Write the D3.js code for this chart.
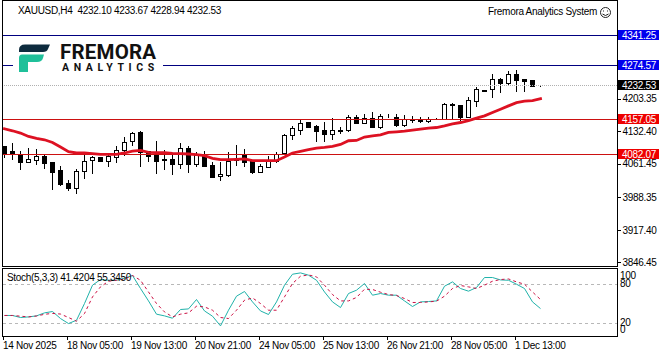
<!DOCTYPE html>
<html>
<head>
<meta charset="utf-8">
<script src="https://cdn.jsdelivr.net/npm/d3@7"></script>
<style>
html, body { margin: 0; padding: 0; background: #fff; }
text { font-family: "Liberation Sans", sans-serif; font-size: 10px; letter-spacing: -0.3px; fill: #000; }
</style>
</head>
<body>
<div id="chart"></div>
<script>
var opens = [4099.0,4086.9,4081.0,4064.3,4068.6,4077.3,4063.7,4046.3,4018.1,4007.9,4043.5,4067.3,4074.5,4066.5,4075.2,4090.3,4109.9,4128.7,4086.9,4078.8,4070.2,4070.2,4060.0,4094.0,4059.3,4077.3,4057.1,4032.6,4036.1,4068.0,4081.0,4066.5,4042.6,4053.5,4066.5,4083.2,4122.2,4133.7,4151.9,4141.7,4133.1,4125.0,4134.6,4133.1,4162.8,4149.8,4160.6,4139.6,4167.1,4162.8,4145.4,4158.4,4157.6,4153.2,4159.1,4158.4,4189.5,4187.3,4162.8,4197.5,4221.3,4223.5,4243.7,4236.5,4256.7,4243.7,4241.5,4232.10]
var highs = [4099.0,4107.0,4089.7,4096.2,4094.0,4081.0,4065.8,4057.1,4026.8,4050.6,4083.2,4077.3,4076.0,4083.2,4099.0,4120.0,4131.5,4133.1,4088.2,4111.4,4091.8,4079.5,4106.4,4099.9,4086.9,4088.2,4065.2,4064.3,4086.9,4102.7,4094.0,4068.0,4060.8,4077.3,4086.9,4126.6,4143.9,4156.9,4151.9,4146.1,4151.9,4160.6,4141.1,4167.8,4168.4,4169.9,4173.6,4170.6,4170.6,4169.3,4168.4,4166.2,4162.8,4164.1,4161.3,4194.4,4193.1,4189.5,4206.2,4227.8,4221.3,4256.7,4247.4,4263.2,4265.4,4245.2,4242.6,4233.67]
var lows = [4074.5,4070.2,4048.5,4063.7,4059.3,4050.6,4005.1,4013.8,4002.9,3996.4,4028.9,4039.8,4065.8,4055.0,4063.7,4078.8,4099.0,4055.0,4064.3,4039.8,4048.5,4037.6,4050.6,4042.0,4055.0,4055.0,4030.5,4023.1,4031.8,4055.6,4053.5,4039.8,4041.3,4052.8,4063.0,4081.0,4113.5,4122.9,4138.1,4109.2,4109.2,4113.5,4126.6,4130.2,4147.6,4148.2,4139.6,4136.7,4161.9,4142.4,4142.4,4149.8,4149.8,4151.1,4156.9,4156.9,4158.4,4155.4,4160.6,4185.8,4217.7,4205.3,4214.8,4232.2,4218.3,4218.3,4228.5,4228.94]
var closes = [4083.2,4082.5,4063.7,4070.2,4076.0,4062.1,4042.6,4015.9,4007.3,4043.5,4065.2,4074.5,4066.5,4076.0,4090.3,4108.6,4128.1,4085.3,4077.3,4066.5,4067.3,4060.0,4093.4,4059.3,4078.2,4055.6,4031.1,4037.0,4066.5,4070.2,4064.3,4041.3,4054.3,4065.2,4081.0,4122.2,4138.9,4149.8,4139.6,4131.5,4125.0,4134.6,4131.5,4162.8,4149.8,4160.6,4141.1,4164.9,4165.6,4144.6,4156.9,4156.3,4153.2,4158.4,4160.2,4189.5,4187.3,4162.8,4198.1,4222.0,4218.3,4243.7,4235.0,4256.7,4242.2,4240.0,4229.1,4232.53]
var maValues = [4137.4,4133.1,4128.1,4120.7,4116.4,4113.5,4107.7,4097.7,4087.5,4084.7,4084.7,4083.2,4081.7,4081.7,4081.7,4084.7,4089.0,4090.3,4086.0,4085.3,4085.3,4083.8,4083.2,4082.5,4081.0,4078.8,4073.0,4070.2,4070.2,4070.8,4071.7,4068.0,4068.0,4068.0,4068.0,4076.0,4084.7,4088.2,4091.8,4095.5,4096.8,4099.0,4103.3,4111.4,4112.0,4119.4,4122.2,4124.4,4129.4,4130.9,4132.4,4134.6,4136.7,4138.9,4140.2,4143.9,4148.2,4151.1,4155.4,4160.6,4165.6,4172.8,4180.1,4187.3,4194.4,4197.5,4198.8,4203.1]
var stochMain = [30.8,30.8,27.7,28.6,30.2,34.8,36.9,26.1,18.4,23.5,49.2,77.4,86.1,85,85,88.2,92.3,72.3,53.2,32.8,30.2,26.6,40,40.9,55.4,37.8,29.7,14.8,38.9,60.5,67.7,51.7,37.8,32.3,51.7,77.4,94.3,96.3,92.8,85,67,51.7,43,64.6,69.7,80,62,64.6,62,62,53.2,44.6,51.7,52.3,53.2,75.8,82.5,72.3,68.2,73.8,89.2,89.2,85.5,85,78.9,72.3,51.7,41.42]
var stochSignal = [30.8,30.8,29.7,28.6,30,32.6,34,33,27.7,22,33.8,59.4,74.8,83.5,85,87,92.3,85,67,49.2,36.3,28.6,32.8,34.8,45,44,38.9,27.7,26.1,38.9,54.3,57.8,49.2,38.9,38.9,59.4,80,91.2,93.2,90.2,77.4,63,53.2,53.2,58.5,71.2,70.8,66.6,63,61.5,56.9,50.8,50.8,51.7,52.8,60.5,72.3,76.9,74.8,72.3,77.4,83.5,86.1,87,82.5,78.9,67,55.35]

var priceTicks = [4203.35,4132.40,4061.45,3988.35,3917.40,3846.45]
var dateLabels = ["14 Nov 2025","18 Nov 05:00","19 Nov 13:00","20 Nov 21:00","24 Nov 05:00","25 Nov 13:00","26 Nov 21:00","28 Nov 05:00","1 Dec 13:00"]
var stochLevels = [80,20]
var stochTicks = [100,80,20,0]
var blueLevels = [4341.25,4274.57]
var redLevels = [4157.05,4082.07]
var bidPrice = 4232.53
var headerText = "XAUUSD,H4  4232.10 4233.67 4228.94 4232.53"
var stochText = "Stoch(5,3,3) 41.4204 55.3450"

var config = {
    width: 662, height: 357,
    left: 2, right: 617,
    mainTop: 0, mainBottom: 266,
    subTop: 268, subBottom: 336
}

var svg = d3.select("#chart").append("svg")
    .attr("width", config.width)
    .attr("height", config.height)
    .style("display", "block")

var x = d3.scaleLinear().domain([0, 67]).range([4.5, 540.5])
var y = d3.scaleLinear().domain([4341.25, 4082.07]).range([35.2, 154.2])
var yStoch = d3.scaleLinear().domain([100, 0]).range([270.5, 335.5])

var fmt = d3.format(".2f")

function row(v){ return Math.floor(y(v)) + 0.5 }

// candles
var candles = svg.append("g").attr("shape-rendering", "crispEdges")
opens.forEach(function(o, i){
    var c = closes[i]
    var cx = x(i)
    candles.append("line")
        .attr("x1", cx).attr("x2", cx)
        .attr("y1", y(highs[i])).attr("y2", y(lows[i]))
        .attr("stroke", "#000")
    var top = row(Math.max(o, c))
    var bottom = row(Math.min(o, c))
    candles.append("rect")
        .attr("x", cx - 2).attr("y", top)
        .attr("width", 4).attr("height", bottom - top)
        .attr("fill", c >= o ? "#fff" : "#000")
        .attr("stroke", "#000")
})

// horizontal levels
var levels = svg.append("g").attr("shape-rendering", "crispEdges")
levels.append("line")
    .attr("x1", config.left).attr("x2", config.right)
    .attr("y1", row(bidPrice)).attr("y2", row(bidPrice))
    .attr("stroke", "#b0b0b0").attr("stroke-dasharray", "1,1")
blueLevels.forEach(function(v){
    levels.append("line")
        .attr("x1", config.left).attr("x2", config.right)
        .attr("y1", row(v)).attr("y2", row(v))
        .attr("stroke", "#000080")
})
redLevels.forEach(function(v){
    levels.append("line")
        .attr("x1", config.left).attr("x2", config.right)
        .attr("y1", row(v)).attr("y2", row(v))
        .attr("stroke", "#cc1111")
})

// moving average
svg.append("path")
    .attr("fill", "none")
    .attr("stroke", "#dd1122")
    .attr("stroke-width", 2.8)
    .attr("stroke-linecap", "square")
    .attr("d", d3.line().x(function(d, i){ return x(i) }).y(function(d){ return y(d) })(maValues))

// logo sits on a white patch over the lines
var logo = svg.append("g")
logo.append("rect").attr("x", 13).attr("y", 38).attr("width", 150).attr("height", 37).attr("fill", "#fff")
logo.append("path").attr("fill", "#0d2b3e")
    .attr("d", "M25,44.5 L50,44.5 L48,49 Q47,52 43,52 L19,52 L19,50 Q19,44.5 25,44.5 Z")
logo.append("path").attr("fill", "#1fc09a")
    .attr("d", "M22,54.5 L44,54.5 L43,58 Q42,62 37,62 L28,62 L28,72 L19,72 L19,58 Q19,54.5 22,54.5 Z")
logo.append("text").attr("x", 60).attr("y", 59)
    .style("font-family", "Roboto, sans-serif").style("font-size", "20.5px").style("font-weight", "700")
    .style("letter-spacing", "0.2px").style("fill", "#111")
    .text("FREMORA")
logo.append("text").attr("x", 62).attr("y", 71)
    .style("font-family", "Roboto, sans-serif").style("font-size", "10.5px").style("font-weight", "700")
    .style("letter-spacing", "4.6px").style("fill", "#111")
    .text("ANALYTICS")

// panel frames
var frame = svg.append("g").attr("shape-rendering", "crispEdges").attr("fill", "none").attr("stroke", "#000")
frame.append("rect").attr("x", config.left + 0.5).attr("y", 0.5)
    .attr("width", config.right - config.left).attr("height", config.mainBottom)
frame.append("rect").attr("x", config.left + 0.5).attr("y", config.subTop + 0.5)
    .attr("width", config.right - config.left).attr("height", config.subBottom - config.subTop)

// header texts
svg.append("text").attr("x", 18).attr("y", 14).text(headerText).style("white-space", "pre")
svg.append("text").attr("x", 488).attr("y", 15).text("Fremora Analytics System")
var smile = svg.append("g").attr("fill", "none").attr("stroke", "#222")
smile.append("circle").attr("cx", 605.5).attr("cy", 12.5).attr("r", 5)
smile.append("path").attr("d", "M602.5,14 Q605.5,17 608.5,14")
smile.append("path").attr("d", "M603.5,10.5 V11.5 M607.5,10.5 V11.5")

// price axis
var priceAxis = d3.axisRight(y).tickValues(priceTicks).tickSize(3).tickPadding(2).tickFormat(fmt)
var priceG = svg.append("g").attr("transform", "translate(" + (config.right + 0.5) + ",0)").call(priceAxis)
priceG.select(".domain").remove()
priceG.selectAll("line").attr("shape-rendering", "crispEdges")

// price flags
function flag(v, bg){
    var yy = Math.floor(y(v))
    svg.append("rect").attr("x", 618).attr("y", yy - 5).attr("width", 41).attr("height", 10).attr("fill", bg)
    svg.append("text").attr("x", 622).attr("y", yy + 3.5).style("fill", "#fff").text(fmt(v))
}
blueLevels.forEach(function(v){ flag(v, "#0000ee") })
flag(bidPrice, "#000")
redLevels.forEach(function(v){ flag(v, "#ee0000") })

// stochastic panel
var sub = svg.append("g")
stochLevels.forEach(function(v){
    sub.append("line").attr("shape-rendering", "crispEdges")
        .attr("x1", config.left + 1).attr("x2", config.right)
        .attr("y1", Math.round(yStoch(v)) + 0.5).attr("y2", Math.round(yStoch(v)) + 0.5)
        .attr("stroke", "#b8b8b8").attr("stroke-dasharray", "3,3")
})
sub.append("path").attr("fill", "none").attr("stroke", "#20b2aa")
    .attr("d", d3.line().x(function(d, i){ return x(i) }).y(function(d){ return yStoch(d) })(stochMain))
sub.append("path").attr("fill", "none").attr("stroke", "#cc1144").attr("stroke-dasharray", "3,3")
    .attr("d", d3.line().x(function(d, i){ return x(i) }).y(function(d){ return yStoch(d) })(stochSignal))
sub.append("text").attr("x", 7).attr("y", 281).text(stochText)

stochTicks.forEach(function(v){
    // 100 and 0 are pushed inward, the way the terminal prints them
    var yy = yStoch(v) + (v == 100 ? 5 : v == 0 ? -6 : 0)
    sub.append("text").attr("x", 620).attr("y", yy + 3.5).text(v)
})

// date axis
var dateG = svg.append("g").attr("shape-rendering", "crispEdges")
dateLabels.forEach(function(label, k){
    var tx = x(k * 8) - 1
    dateG.append("line")
        .attr("x1", tx).attr("x2", tx).attr("y1", config.subBottom).attr("y2", config.subBottom + 4)
        .attr("stroke", "#000")
    dateG.append("text").attr("x", tx - 0.5).attr("y", 349).text(label)
})
</script>
</body>
</html>
